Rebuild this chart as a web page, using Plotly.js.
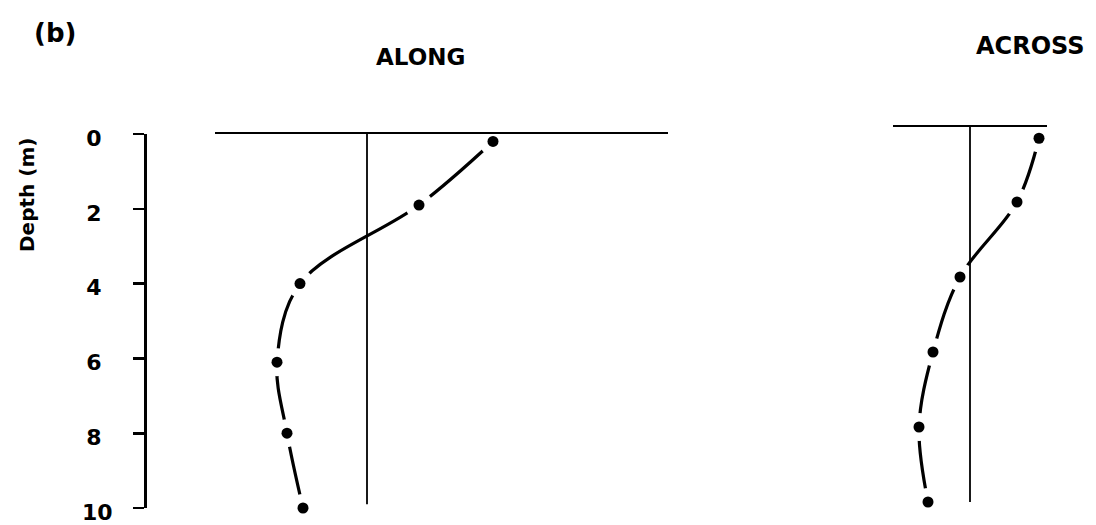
<!DOCTYPE html>
<html>
<head>
<meta charset="utf-8">
<script src="https://cdn.plot.ly/plotly-3.0.1.min.js"></script>
<style>
  html, body { margin: 0; padding: 0; background: #fff; }
  #chart { width: 1096px; height: 525px; }
</style>
</head>
<body>
<div id="chart"></div>
<script>
// Current profiles: depth (m) and velocity component for each station
const depthAlong  = [0.2, 1.9, 4.0, 6.1, 8.0, 10.0];
const along       = [12.6, 5.2, -6.7, -9.0, -8.0, -6.4];
const depthAcross = [0.3, 2.0, 4.0, 6.0, 8.0, 10.0];
const across      = [6.9, 4.7, -1.0, -3.7, -5.1, -4.2];
const depthTicks  = [0, 2, 4, 6, 8, 10];
const panelTitles = ['ALONG', 'ACROSS'];

const W = 1096, H = 525;
const fx = px => px / W;
const fy = py => 1 - py / H;

const FONT = 'DejaVu Sans, Liberation Sans, Arial, sans-serif';
const INK = '#000';

function profile(x, y, xa, ya) {
  return [
    { // smooth profile line
      x: x, y: y, xaxis: xa, yaxis: ya, type: 'scatter', mode: 'lines',
      line: { color: INK, width: 3.2, shape: 'spline', smoothing: 1 },
      hoverinfo: 'skip'
    },
    { // white clearance around each sample
      x: x, y: y, xaxis: xa, yaxis: ya, type: 'scatter', mode: 'markers',
      marker: { color: '#fff', size: 28, line: { width: 0 } },
      cliponaxis: false, hoverinfo: 'skip'
    },
    { // sample points
      x: x, y: y, xaxis: xa, yaxis: ya, type: 'scatter', mode: 'markers',
      marker: { color: INK, size: 11, line: { width: 0 } },
      cliponaxis: false
    }
  ];
}

const data = [
  ...profile(along, depthAlong, 'x', 'y'),
  ...profile(across, depthAcross, 'x2', 'y2')
];

const topAxis = {
  side: 'top', showline: true, linecolor: INK, linewidth: 2.2,
  showgrid: false, zeroline: false, showticklabels: false, ticks: '',
  fixedrange: true
};

// single-digit labels get an en space so they sit centred over the "10"
const tickText = depthTicks.map(v => v < 10 ? v + '\u2002' : String(v));

const layout = {
  width: W, height: H,
  margin: { l: 0, r: 0, t: 0, b: 0 },
  paper_bgcolor: '#fff', plot_bgcolor: 'rgba(0,0,0,0)',
  showlegend: false,
  font: { family: FONT, color: INK },
  xaxis: Object.assign({}, topAxis, {
    domain: [fx(215), fx(668)], range: [-15.2, 30.1], anchor: 'y'
  }),
  yaxis: {
    domain: [fy(508), fy(134)], range: [10, 0], anchor: 'free', position: fx(145),
    showline: true, linecolor: INK, linewidth: 2.6,
    ticks: 'outside', ticklen: 11, tickwidth: 2.6, tickcolor: INK,
    tickvals: depthTicks, ticktext: tickText,
    tickfont: { family: FONT, size: 22, weight: 'bold', color: INK },
    ticklabelstandoff: 16, ticklabelshift: -4, ticklabeloverflow: 'allow',
    showgrid: false, zeroline: false, fixedrange: true
  },
  xaxis2: Object.assign({}, topAxis, {
    domain: [fx(893), fx(1047)], range: [-7.7, 7.7], anchor: 'y2'
  }),
  yaxis2: {
    domain: [fy(502), fy(127)], range: [10, 0], anchor: 'x2',
    visible: false, fixedrange: true
  },
  shapes: [
    { type: 'line', xref: 'x', yref: 'y', x0: 0, x1: 0, y0: 0, y1: 9.9,
      line: { color: INK, width: 1.8 } },
    { type: 'line', xref: 'x2', yref: 'y2', x0: 0, x1: 0, y0: 0, y1: 10,
      line: { color: INK, width: 1.8 } }
  ],
  annotations: [
    { text: '(b)', xref: 'paper', yref: 'paper', x: fx(55), y: fy(33),
      showarrow: false, xanchor: 'center', yanchor: 'middle',
      font: { family: FONT, size: 26, weight: 'bold', color: INK } },
    { text: panelTitles[0], xref: 'paper', yref: 'paper', x: fx(420), y: fy(57),
      showarrow: false, xanchor: 'center', yanchor: 'middle',
      font: { family: FONT, size: 23, weight: 'bold', color: INK } },
    { text: panelTitles[1], xref: 'paper', yref: 'paper', x: fx(1030), y: fy(46),
      showarrow: false, xanchor: 'center', yanchor: 'middle',
      font: { family: FONT, size: 24, weight: 'bold', color: INK } },
    { text: 'Depth (m)', xref: 'paper', yref: 'paper', x: fx(27), y: fy(195),
      showarrow: false, textangle: -90, xanchor: 'center', yanchor: 'middle',
      font: { family: FONT, size: 20, weight: 'bold', color: INK } }
  ]
};

Plotly.newPlot('chart', data, layout, { displayModeBar: false, staticPlot: true });
</script>
</body>
</html>
